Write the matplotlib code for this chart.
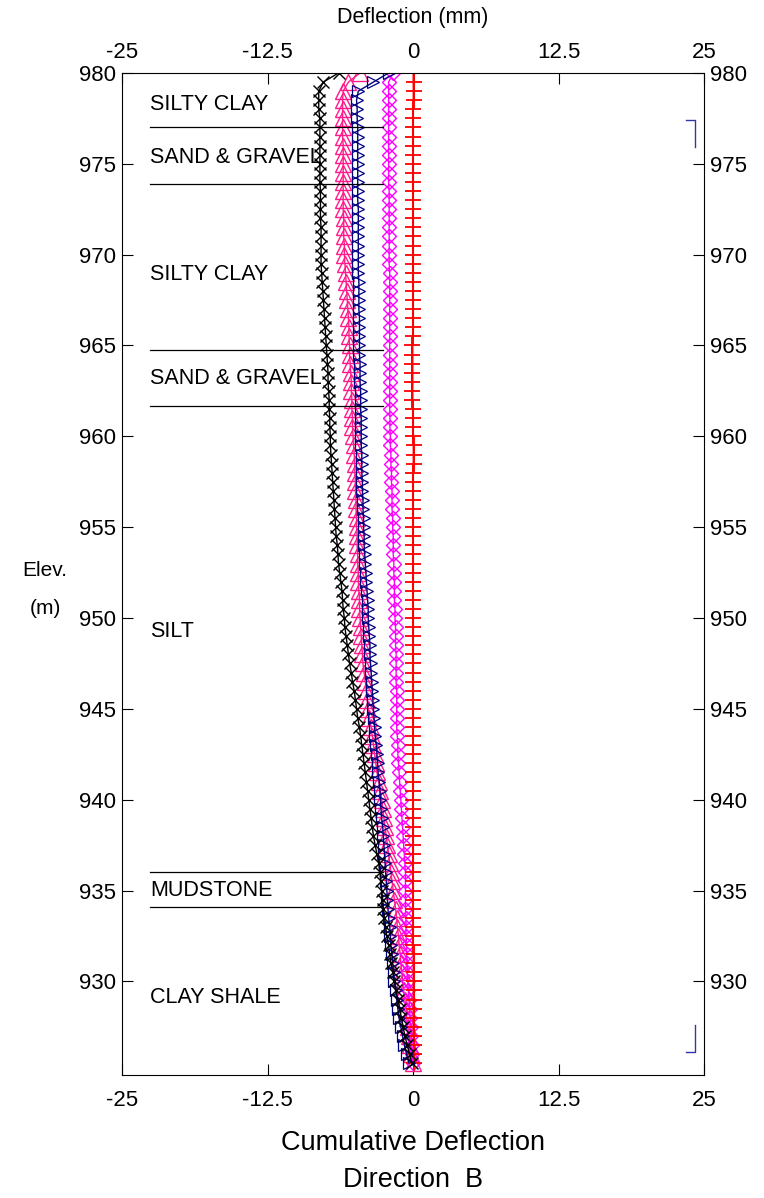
import numpy as np
import matplotlib.pyplot as plt
from matplotlib.transforms import ScaledTranslation

plt.rcParams['font.family'] = ['Liberation Sans', 'DejaVu Sans']

# elevation of each reading (m), top to bottom, 0.5 m spacing
elev = np.arange(980.0, 925.4, -0.5)

# cumulative deflection (mm) for each survey (top -> bottom)
black_x = [
    -6.4, -7.7, -8.1, -8.1, -8.1, -8.0, -8.0, -8.0, -8.0, -8.0,
    -8.0, -8.0, -8.0, -7.95, -7.95, -7.95, -7.95, -7.9, -7.9, -7.9,
    -7.9, -7.9, -7.85, -7.8, -7.75, -7.7, -7.65, -7.6, -7.55, -7.5,
    -7.45, -7.4, -7.35, -7.3, -7.3, -7.25, -7.2, -7.2, -7.15, -7.15,
    -7.1, -7.1, -7.05, -7.0, -6.95, -6.9, -6.85, -6.8, -6.75, -6.7,
    -6.65, -6.6, -6.5, -6.45, -6.4, -6.3, -6.2, -6.1, -6.05, -6.0,
    -5.9, -5.85, -5.75, -5.65, -5.55, -5.45, -5.3, -5.2, -5.05, -4.95,
    -4.85, -4.75, -4.6, -4.5, -4.4, -4.3, -4.2, -4.1, -4.0, -3.9,
    -3.8, -3.7, -3.6, -3.5, -3.4, -3.25, -3.1, -2.95, -2.85, -2.75,
    -2.7, -2.6, -2.55, -2.45, -2.35, -2.25, -2.1, -2.0, -1.9, -1.75,
    -1.6, -1.45, -1.3, -1.15, -1.0, -0.85, -0.7, -0.5, -0.3, -0.1,
]
pink_tri = [
    -4.55, -5.55, -6.0, -6.05, -6.05, -6.05, -6.05, -6.05, -6.0, -6.0,
    -6.0, -6.0, -6.0, -6.0, -6.0, -6.0, -5.95, -5.95, -5.95, -5.9,
    -5.9, -5.85, -5.8, -5.75, -5.7, -5.65, -5.6, -5.55, -5.5, -5.5,
    -5.45, -5.45, -5.4, -5.35, -5.3, -5.3, -5.25, -5.25, -5.2, -5.2,
    -5.15, -5.1, -5.05, -5.0, -5.0, -4.95, -4.95, -4.9, -4.9, -4.85,
    -4.85, -4.8, -4.8, -4.75, -4.75, -4.7, -4.7, -4.65, -4.6, -4.6,
    -4.55, -4.5, -4.45, -4.4, -4.35, -4.3, -4.2, -4.1, -4.0, -3.95,
    -3.85, -3.75, -3.6, -3.5, -3.4, -3.3, -3.2, -3.1, -2.95, -2.8,
    -2.7, -2.6, -2.5, -2.4, -2.3, -2.2, -2.1, -2.0, -1.9, -1.8,
    -1.7, -1.6, -1.5, -1.4, -1.35, -1.25, -1.2, -1.1, -1.05, -0.95,
    -0.9, -0.8, -0.7, -0.6, -0.55, -0.45, -0.35, -0.25, -0.15, 0.0,
]
blue_tri = [
    -2.1, -3.4, -4.7, -4.85, -4.8, -4.8, -4.75, -4.75, -4.75, -4.75,
    -4.75, -4.75, -4.75, -4.75, -4.75, -4.7, -4.7, -4.7, -4.7, -4.7,
    -4.7, -4.7, -4.7, -4.65, -4.65, -4.65, -4.65, -4.6, -4.6, -4.6,
    -4.6, -4.6, -4.55, -4.55, -4.55, -4.5, -4.5, -4.5, -4.45, -4.45,
    -4.45, -4.45, -4.4, -4.4, -4.4, -4.35, -4.35, -4.3, -4.3, -4.25,
    -4.25, -4.2, -4.2, -4.15, -4.1, -4.05, -4.0, -3.95, -3.9, -3.85,
    -3.85, -3.8, -3.75, -3.7, -3.7, -3.65, -3.6, -3.55, -3.5, -3.45,
    -3.4, -3.35, -3.3, -3.25, -3.15, -3.1, -3.05, -3.0, -2.9, -2.85,
    -2.8, -2.75, -2.7, -2.6, -2.55, -2.5, -2.45, -2.4, -2.35, -2.3,
    -2.25, -2.2, -2.15, -2.1, -2.0, -1.95, -1.9, -1.8, -1.75, -1.65,
    -1.6, -1.5, -1.4, -1.3, -1.2, -1.05, -0.9, -0.75, -0.55, -0.35,
]
magenta_dia = [
    -1.7, -2.1, -2.1, -2.1, -2.1, -2.1, -2.1, -2.1, -2.1, -2.1,
    -2.1, -2.1, -2.1, -2.05, -2.05, -2.05, -2.05, -2.05, -2.05, -2.05,
    -2.05, -2.05, -2.0, -2.0, -2.0, -2.0, -2.0, -2.0, -2.0, -2.0,
    -2.0, -2.0, -2.0, -2.0, -2.0, -2.0, -2.0, -2.0, -1.98, -1.98,
    -1.95, -1.95, -1.9, -1.9, -1.85, -1.85, -1.8, -1.8, -1.8, -1.75,
    -1.75, -1.7, -1.7, -1.7, -1.65, -1.65, -1.6, -1.6, -1.6, -1.55,
    -1.55, -1.5, -1.5, -1.5, -1.45, -1.45, -1.45, -1.45, -1.4, -1.4,
    -1.4, -1.4, -1.4, -1.35, -1.3, -1.3, -1.25, -1.2, -1.15, -1.1,
    -1.05, -1.0, -0.95, -0.9, -0.85, -0.8, -0.75, -0.7, -0.65, -0.65,
    -0.65, -0.65, -0.65, -0.6, -0.6, -0.6, -0.55, -0.55, -0.5, -0.5,
    -0.45, -0.4, -0.35, -0.3, -0.25, -0.2, -0.15, -0.1, -0.05, 0.0,
]
red_plus = [
    0.05, 0.05, 0.05, 0.05, 0.0, 0.0, 0.0, 0.0, 0.0, 0.0,
    0.0, 0.0, 0.0, 0.0, 0.0, 0.0, 0.0, 0.0, 0.0, 0.0,
    0.0, 0.0, 0.0, 0.0, 0.0, 0.0, 0.0, 0.0, 0.0, 0.0,
    -0.05, -0.05, -0.05, -0.05, -0.05, -0.05, -0.05, 0.0, 0.0, 0.0,
    0.0, 0.05, 0.05, 0.05, 0.0, 0.0, 0.0, 0.0, 0.0, 0.0,
    0.0, 0.0, 0.0, 0.0, 0.0, 0.0, 0.0, 0.0, 0.0, 0.0,
    0.0, 0.0, 0.0, 0.0, 0.0, 0.0, 0.0, 0.0, 0.0, 0.0,
    0.0, 0.0, 0.0, 0.0, 0.0, 0.0, 0.0, 0.0, 0.0, 0.0,
    0.0, 0.0, 0.0, 0.0, 0.0, 0.0, 0.0, 0.0, 0.0, 0.0,
    0.0, 0.0, 0.0, 0.0, 0.0, 0.0, 0.0, 0.05, 0.05, 0.05,
    0.05, 0.05, 0.05, 0.05, 0.05, 0.05, 0.05, 0.1, 0.1, 0.1,
]

# soil layers
layer_names = ["SILTY CLAY", "SAND & GRAVEL", "SILTY CLAY", "SAND & GRAVEL",
               "SILT", "MUDSTONE", "CLAY SHALE"]
layer_label_elev = [978.24, 975.37, 968.88, 963.2, 949.27, 935.0, 929.12]
boundary_elev = [977.0, 973.9, 964.75, 961.66, 936.0, 934.1]

x_ticks = [-25, -12.5, 0, 12.5, 25]
y_ticks = [930, 935, 940, 945, 950, 955, 960, 965, 970, 975, 980]

fig = plt.figure(figsize=(7.64, 11.98), dpi=100)
ax = fig.add_axes([0.1597, 0.1027, 0.7618, 0.8364])

ax.plot(pink_tri, elev, color='#ff1a8c', lw=1.0, marker='^', ms=11,
        mfc='none', mew=1.0)
ax.plot(magenta_dia, elev, color='#ff00ff', lw=1.0, marker='D', ms=7.5,
        mfc='none', mew=1.0)
ax.plot(red_plus, elev, color='#ff0000', lw=1.5, marker='+', ms=11,
        mew=1.3)
ax.plot(blue_tri, elev, color='#000080', lw=1.0, marker='>', ms=8,
        mfc='none', mew=0.9)
ax.plot(black_x, elev, color='black', lw=1.0, marker='x', ms=8.5, mew=1.0)

# layer boundaries and names
for b in boundary_elev:
    ax.plot([-22.6, -2.6], [b, b], color='black', lw=0.9)
for name, e in zip(layer_names, layer_label_elev):
    ax.text(-22.6, e, name, fontsize=15.5, va='center', ha='left')

# blue brackets on the right
ax.plot([23.45, 24.2, 24.2], [977.4, 977.4, 975.9], color='#3333aa', lw=1.0)
ax.plot([24.2, 24.2, 23.45], [927.6, 926.1, 926.1], color='#3333aa', lw=1.0)

ax.set_xlim(-25, 25)
ax.set_ylim(924.85, 980)
ax.set_xticks(x_ticks)
ax.set_xticklabels(['-25', '-12.5', '0', '12.5', '25'])
ax.set_yticks(y_ticks)
ax.tick_params(direction='in', length=8, width=0.8, labelsize=16,
               top=True, bottom=True, left=True, right=True,
               labeltop=True, labelbottom=True, labelleft=True, labelright=True)
ax.tick_params(axis='x', pad=7)
ax.tick_params(axis='y', pad=4)

# bottom tick labels sit a little lower than the top ones
shift = ScaledTranslation(0, -4 / 72, fig.dpi_scale_trans)
for t in ax.xaxis.get_major_ticks():
    t.label1.set_transform(t.label1.get_transform() + shift)

fig.text(0.5405, 0.985, "Deflection (mm)", fontsize=15.5, ha='center', va='center')
fig.text(0.5405, 0.0455, "Cumulative Deflection", fontsize=19.5, ha='center', va='center')
fig.text(0.5405, 0.0150, "Direction  B", fontsize=19.5, ha='center', va='center')
fig.text(0.059, 0.524, "Elev.", fontsize=15, ha='center', va='center')
fig.text(0.059, 0.492, "(m)", fontsize=15, ha='center', va='center')

fig.savefig("out.png", dpi=100)
